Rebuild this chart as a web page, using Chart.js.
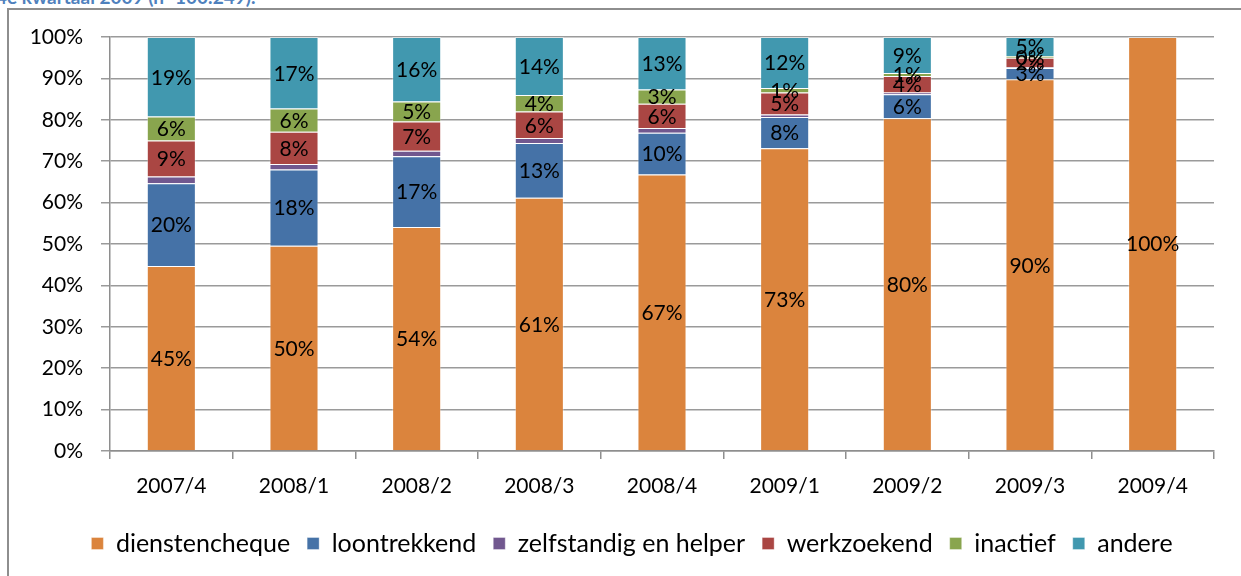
<!DOCTYPE html>
<html lang="nl">
<head>
<meta charset="UTF-8">
<title>Instroom dienstencheques</title>
<style>
  html, body { margin: 0; padding: 0; background: #fff; }
  body { width: 1241px; height: 576px; position: relative; overflow: hidden; font-family: Lato, 'Open Sans', sans-serif; }
  .caption { position: absolute; left: -4px; top: -15px; color: #4f81bd; font-weight: bold; font-size: 19px; white-space: nowrap; }
  .frame { position: absolute; left: 7px; top: 8px; width: 1400px; height: 800px; border: 2px solid #8e8e8e; box-sizing: border-box; }
  .wrap { position: absolute; left: 0; top: 0; width: 1241px; height: 576px; }
</style>
</head>
<body>
<div class="caption">4e kwartaal 2009 (n=100.249).</div>
<div class="frame"></div>
<div class="wrap"><canvas id="chart" width="1241" height="576"></canvas></div>
<script src="https://cdn.jsdelivr.net/npm/chart.js"></script>
<script>
// quarters
const categories = ['2007/4', '2008/1', '2008/2', '2008/3', '2008/4', '2009/1', '2009/2', '2009/3', '2009/4'];

// share per status (%)
const dienstencheque = [44.7, 49.6, 54.1, 61.2, 66.8, 73.1, 80.4, 89.8, 100];
const loontrekkend   = [20.0, 18.4, 17.1, 13.2, 10.1, 7.6, 5.8, 2.7, 0];
const zelfstandig    = [1.6, 1.3, 1.3, 1.2, 1.1, 0.6, 0.4, 0.2, 0];
const werkzoekend    = [8.7, 7.8, 7.1, 6.4, 5.9, 5.3, 4.0, 2.3, 0];
const inactief       = [5.8, 5.6, 4.8, 4.0, 3.4, 1.1, 0.7, 0.4, 0];
const andere         = [19.2, 17.3, 15.6, 14.0, 12.7, 12.3, 8.7, 4.6, 0];

const yTicks = [0, 10, 20, 30, 40, 50, 60, 70, 80, 90, 100];

const FONT = { family: 'Lato, "Open Sans", sans-serif', size: 21 };
const LEGEND_FONT = { family: FONT.family, size: 25 };

const series = [
  { label: 'dienstencheque', data: dienstencheque, color: '#db843d', showLabels: true },
  { label: 'loontrekkend', data: loontrekkend, color: '#4572a7', showLabels: true },
  { label: 'zelfstandig en helper', data: zelfstandig, color: '#71588f', showLabels: false },
  { label: 'werkzoekend', data: werkzoekend, color: '#aa4643', showLabels: true },
  { label: 'inactief', data: inactief, color: '#89a54e', showLabels: true },
  { label: 'andere', data: andere, color: '#4198af', showLabels: true }
];

// draws the % labels in the middle of each segment
const segmentLabels = {
  id: 'segmentLabels',
  afterDatasetsDraw(chart) {
    const ctx = chart.ctx;
    ctx.save();
    ctx.font = FONT.size + 'px ' + FONT.family;
    ctx.fillStyle = '#000';
    ctx.textAlign = 'center';
    ctx.textBaseline = 'middle';
    chart.data.datasets.forEach((ds, i) => {
      if (!series[i].showLabels) return;
      const meta = chart.getDatasetMeta(i);
      meta.data.forEach((bar, j) => {
        const v = ds.data[j];
        if (!v) return;
        const p = bar.getProps(['x', 'y', 'base'], true);
        ctx.fillText(Math.round(v) + '%', p.x, (p.y + p.base) / 2 + 1);
      });
    });
    ctx.restore();
  }
};

// legend sits a bit right of centre in the original
const legendShift = {
  id: 'legendShift',
  afterLayout(chart) {
    if (!chart.legend) return;
    chart.legend.left += 25;
    chart.legend.right += 25;
  }
};

Chart.defaults.font.family = FONT.family;
Chart.defaults.font.size = FONT.size;
Chart.defaults.color = '#000';

new Chart(document.getElementById('chart'), {
  type: 'bar',
  data: {
    labels: categories,
    datasets: series.map(s => ({
      label: s.label,
      data: s.data,
      backgroundColor: s.color,
      borderColor: 'rgba(255,255,255,0.35)',
      borderWidth: 1,
      categoryPercentage: 1,
      barPercentage: 0.4
    }))
  },
  options: {
    responsive: false,
    animation: false,
    devicePixelRatio: 1,
    layout: { padding: { top: 37, right: 27, bottom: 10, left: 0 } },
    plugins: {
      legend: {
        position: 'bottom',
        labels: { boxWidth: 12, boxHeight: 12, padding: 17, font: LEGEND_FONT, color: '#000' }
      },
      tooltip: { enabled: false }
    },
    scales: {
      x: {
        stacked: true,
        grid: { offset: true, drawOnChartArea: false, drawTicks: true, tickLength: 8, color: '#8e8e8e', lineWidth: 1.5 },
        border: { color: '#8e8e8e', width: 1.5 },
        ticks: { padding: 15, font: FONT, color: '#000' },
        afterFit(scale) { scale.height = 63; }
      },
      y: {
        stacked: true,
        min: 0,
        max: 100,
        afterBuildTicks(scale) { scale.ticks = yTicks.map(v => ({ value: v })); },
        grid: { color: '#9a9a9a', lineWidth: 1.5, tickLength: 9 },
        border: { color: '#8e8e8e', width: 1.5 },
        ticks: { padding: 18, font: FONT, color: '#000', callback: v => v + '%' },
        afterFit(scale) { scale.width = 110; }
      }
    }
  },
  plugins: [segmentLabels, legendShift]
});
</script>
</body>
</html>
